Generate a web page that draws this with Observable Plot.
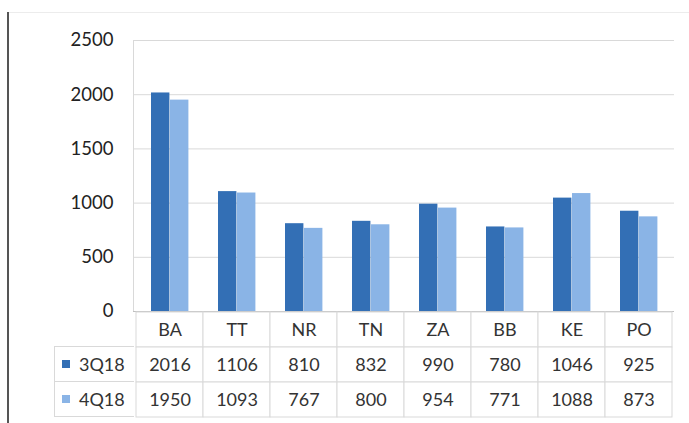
<!DOCTYPE html>
<html><head><meta charset="utf-8">
<script src="https://cdn.jsdelivr.net/npm/d3@7"></script>
<script src="https://cdn.jsdelivr.net/npm/@observablehq/plot@0.6"></script>
<style>
body{margin:0;background:#fff;}
#wrap{position:relative;width:689px;height:423px;overflow:hidden;background:#fff;font-family:Lato,sans-serif;}
#chart,#table{position:absolute;left:0;}
#chart{top:0}
#table{top:311px}
.edgeL{position:absolute;left:7px;top:12px;width:2px;height:411px;background:#555}
.edgeT{position:absolute;left:9px;top:12px;width:680px;height:1px;background:#ececec}
.key{position:absolute;left:54px;width:80px;height:36px;border:1px solid #d9d9d9;border-right:none;box-sizing:border-box;display:flex;align-items:center;font-size:18px;color:#404040;background:#fff}
.sw{width:8px;height:8px;margin:0 9px 0 7px}
</style></head>
<body><div id="wrap"><div class="edgeT"></div><div class="edgeL"></div><div id="chart"></div><div id="table"></div><div id="keys"></div></div>
<script>
const categories = ["BA","TT","NR","TN","ZA","BB","KE","PO"];
const series = ["3Q18","4Q18"];
const values3Q18 = [2016,1106,810,832,990,780,1046,925];
const values4Q18 = [1950,1093,767,800,954,771,1088,873];
const yTicks = [0,500,1000,1500,2000,2500];
const colors = ["#336fb5","#8ab4e6"];

const data = categories.flatMap((c,i)=>[
  {cat:c, series:"3Q18", value:values3Q18[i]},
  {cat:c, series:"4Q18", value:values4Q18[i]}
]);

const chart = Plot.plot({
  width:689, height:312, marginTop:40, marginBottom:1, marginLeft:133, marginRight:15,
  style:{fontFamily:"Lato, sans-serif", background:"transparent", overflow:"visible"},
  x:{domain:categories, padding:0, axis:null},
  y:{domain:[0,2500], axis:null},
  color:{domain:series, range:colors},
  marks:[
    Plot.gridY(yTicks,{stroke:"#d9d9d9", strokeOpacity:1}),
    Plot.frame({anchor:"left", stroke:"#d9d9d9"}),
    Plot.axisY(yTicks,{tickSize:0, tickPadding:20, fontSize:18.5, fill:"#222", label:null, tickFormat:d=>String(d)}),
    Plot.barY(data.filter(d=>d.series==="3Q18"), {x:"cat", y:"value", fill:"series", insetLeft:15, insetRight:33.6}),
    Plot.barY(data.filter(d=>d.series==="4Q18"), {x:"cat", y:"value", fill:"series", insetLeft:34, insetRight:14.6}),
    Plot.ruleY([0],{stroke:"#bfbfbf"})
  ]
});
document.getElementById("chart").append(chart);

const rows = ["cat", ...series];
const cells = categories.flatMap((c,i)=>[
  {cat:c,row:"cat",text:c},
  {cat:c,row:"3Q18",text:String(values3Q18[i])},
  {cat:c,row:"4Q18",text:String(values4Q18[i])}
]);
const table = Plot.plot({
  width:689, height:107, marginTop:0, marginBottom:1, marginLeft:133, marginRight:15,
  style:{fontFamily:"Lato, sans-serif", background:"transparent", overflow:"visible"},
  x:{domain:categories, padding:0, axis:null},
  y:{domain:rows, padding:0, axis:null},
  marks:[
    Plot.cell(cells,{x:"cat", y:"row", fill:"white", stroke:"#d9d9d9"}),
    Plot.text(cells,{x:"cat", y:"row", text:"text", fontSize:18, fill:"#333"})
  ]
});
document.getElementById("table").append(table);

const keys = document.getElementById("keys");
series.forEach((s,i)=>{
  const d = document.createElement("div");
  d.className = "key";
  d.style.top = (311 + 35 + i*35) + "px";
  const sw = document.createElement("span");
  sw.className = "sw";
  sw.style.background = colors[i];
  const t = document.createElement("span");
  t.textContent = s;
  t.style.color = "#333";
  d.append(sw, t);
  keys.append(d);
});
</script>
</body></html>
